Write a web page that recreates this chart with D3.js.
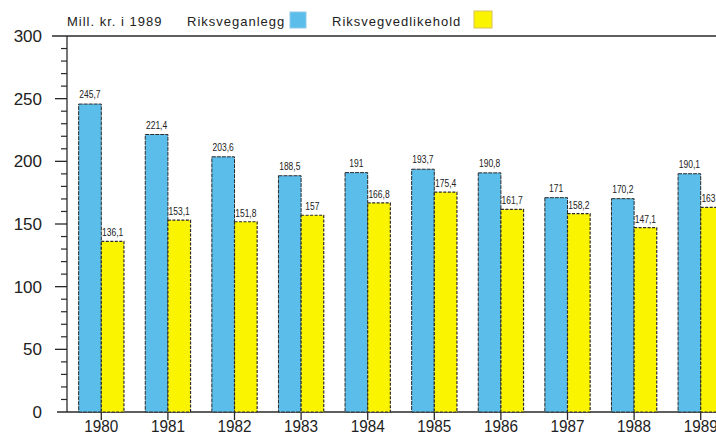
<!DOCTYPE html>
<html>
<head>
<meta charset="utf-8">
<script src="https://cdn.jsdelivr.net/npm/d3@7"></script>
<style>
  body { margin: 0; background: #fff; }
  svg { display: block; }
  text { font-family: "Liberation Sans", Arial, sans-serif; fill: #222; }
</style>
</head>
<body>
<svg id="chart" width="716" height="436"></svg>
<script>
// data
const years = ['1980', '1981', '1982', '1983', '1984', '1985', '1986', '1987', '1988', '1989'];
const anlegg = [245.7, 221.4, 203.6, 188.5, 191, 193.7, 190.8, 171, 170.2, 190.1];
const vedlikehold = [136.1, 153.1, 151.8, 157, 166.8, 175.4, 161.7, 158.2, 147.1, 163.2];
const yTicks = [0, 50, 100, 150, 200, 250, 300];

const blue = '#5bbde9';
const yellow = '#fbf400';
const ink = '#2a2a2a';

const svg = d3.select('#chart');

const x = d3.scaleBand()
    .domain(years)
    .range([68, 734])
    .paddingInner(0.32)
    .paddingOuter(0.16);

const y = d3.scaleLinear()
    .domain([0, 300])
    .range([412, 36]);

const half = x.bandwidth() / 2;
const fmt = v => String(v).replace('.', ',');

/**
 * Axis frame and ticks
 */
svg.append('line')
    .attr('x1', 52).attr('x2', 716)
    .attr('y1', y(300)).attr('y2', y(300))
    .style('stroke', ink).style('stroke-width', 1.5)

svg.append('line')
    .attr('x1', 57).attr('x2', 716)
    .attr('y1', y(0)).attr('y2', y(0))
    .style('stroke', ink).style('stroke-width', 1.5)

svg.append('line')
    .attr('x1', 67).attr('x2', 67)
    .attr('y1', y(300)).attr('y2', y(0))
    .style('stroke', ink).style('stroke-width', 1.3)

svg.selectAll('.minor')
    .data(d3.range(10, 300, 10).filter(v => v % 50 !== 0))
    .join('line')
    .attr('class', 'minor')
    .attr('x1', 61).attr('x2', 67)
    .attr('y1', d => y(d)).attr('y2', d => y(d))
    .style('stroke', ink).style('stroke-width', 1.2)

svg.selectAll('.major')
    .data(yTicks.filter(v => v > 0 && v < 300))
    .join('line')
    .attr('class', 'major')
    .attr('x1', 55).attr('x2', 67)
    .attr('y1', d => y(d)).attr('y2', d => y(d))
    .style('stroke', ink).style('stroke-width', 1.3)

svg.selectAll('.ylab')
    .data(yTicks)
    .join('text')
    .attr('class', 'ylab')
    .attr('x', 42)
    .attr('y', d => y(d) + 6)
    .attr('text-anchor', 'end')
    .style('font-size', '17px')
    .text(d => d)

/**
 * Bars
 */
const groups = svg.selectAll('.year')
    .data(years)
    .join('g')
    .attr('class', 'year')

groups.append('rect')
    .attr('x', d => x(d))
    .attr('y', (d, i) => y(anlegg[i]))
    .attr('width', half)
    .attr('height', (d, i) => y(0) - y(anlegg[i]))
    .style('fill', blue)
    .style('stroke', ink)
    .style('stroke-width', 1)
    .style('stroke-dasharray', '4 1')

groups.append('rect')
    .attr('x', d => x(d) + half)
    .attr('y', (d, i) => y(vedlikehold[i]))
    .attr('width', half)
    .attr('height', (d, i) => y(0) - y(vedlikehold[i]))
    .style('fill', yellow)
    .style('stroke', ink)
    .style('stroke-width', 1.2)
    .style('stroke-dasharray', '3 1.5')

groups.append('text')
    .attr('transform', (d, i) => `translate(${x(d) + half / 2},${y(anlegg[i]) - 6}) scale(0.85,1.1)`)
    .attr('text-anchor', 'middle')
    .style('font-size', '10px')
    .text((d, i) => fmt(anlegg[i]))

groups.append('text')
    .attr('transform', (d, i) => `translate(${x(d) + half * 1.5},${y(vedlikehold[i]) - 5}) scale(0.85,1.1)`)
    .attr('text-anchor', 'middle')
    .style('font-size', '10px')
    .text((d, i) => fmt(vedlikehold[i]))

// center ticks and year labels
groups.append('line')
    .attr('x1', d => x(d) + half).attr('x2', d => x(d) + half)
    .attr('y1', y(0)).attr('y2', y(0) + 8)
    .style('stroke', ink).style('stroke-width', 1.3)

groups.append('text')
    .attr('transform', d => `translate(${x(d) + half},432) scale(0.9,1)`)
    .attr('text-anchor', 'middle')
    .style('font-size', '17px')
    .text(d => d)

/**
 * Legend
 */
const legend = svg.append('g')
    .style('font-size', '13px')
    .style('letter-spacing', '1px')

legend.append('text')
    .attr('x', 67).attr('y', 26)
    .text('Mill. kr. i 1989')

legend.append('text')
    .attr('x', 187).attr('y', 26)
    .text('Riksveganlegg')

legend.append('rect')
    .attr('x', 290).attr('y', 12)
    .attr('width', 16).attr('height', 16)
    .style('fill', blue)
    .style('stroke', '#8fcbe8')

legend.append('text')
    .attr('x', 332).attr('y', 26)
    .text('Riksvegvedlikehold')

legend.append('rect')
    .attr('x', 474).attr('y', 11)
    .attr('width', 18).attr('height', 17)
    .style('fill', yellow)
    .style('stroke', '#d8c060')
</script>
</body>
</html>
